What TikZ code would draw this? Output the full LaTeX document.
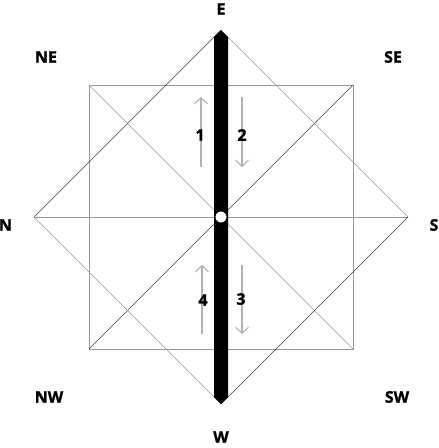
\documentclass[tikz,border=0pt]{standalone}
\usepackage{fontspec}
\setmainfont{Open Sans}[BoldFeatures={FakeBold=1.2}]
\usetikzlibrary{arrows.meta}
\begin{document}
\begin{tikzpicture}[x=1pt,y=-1pt,
  lbl/.style={font=\bfseries\fontsize{16}{16}\selectfont, inner sep=0pt},
  thinblack/.style={black!75, line width=0.4pt},
  thingray/.style={black!40, line width=0.7pt},
  flow/.style={black!30, line width=1.1pt, -{Straight Barb[length=6pt,width=13pt]}}]
\useasboundingbox (0,0) rectangle (439,448);
% diamond tips
\coordinate (Et) at (221,30);
\coordinate (Wt) at (221,404);
\coordinate (Nt) at (34,217);
\coordinate (St) at (408,217);
% square corners
\coordinate (q1) at (89,85);
\coordinate (q2) at (353,85);
\coordinate (q3) at (353,349);
\coordinate (q4) at (89,349);
% square
\draw[thingray] (q1) -- (q2) -- (q3) -- (q4) -- cycle;
\draw[thingray] (q1) -- (q3);
\draw[thinblack] (q2) -- (q4);
\draw[thingray] (Nt) -- (St);
% diamond
\draw[thinblack] (Nt) -- (Et);
\draw[thingray] (Et) -- (St);
\draw[thinblack] (St) -- (Wt);
\draw[thingray] (Wt) -- (Nt);
% thick bar
\fill[black] (214,37) -- (Et) -- (228,37) -- (228,397) -- (Wt) -- (214,397) -- cycle;
\node[circle, draw=black, fill=white, minimum size=12pt, inner sep=0pt, line width=0.8pt] (c) at (221,217) {};
% flow arrows
\coordinate (a1s) at (201,167); \coordinate (a1e) at (201,97);
\coordinate (a2s) at (242,97);  \coordinate (a2e) at (242,167);
\coordinate (a4s) at (202,334); \coordinate (a4e) at (202,265);
\coordinate (a3s) at (242,265); \coordinate (a3e) at (242,334);
\draw[flow] (a1s) -- (a1e);
\draw[flow] (a2s) -- (a2e);
\draw[flow] (a4s) -- (a4e);
\draw[flow] (a3s) -- (a3e);
\node[lbl] (n1) at (200,135) {1};
\node[lbl] (n2) at (242,135) {2};
\node[lbl] (n4) at (203,300) {4};
\node[lbl] (n3) at (241,299) {3};
% compass labels
\node[lbl] (E) at (221,9) {E};
\node[lbl] (W) at (221,437) {W};
\node[lbl] (N) at (5.5,225) {N};
\node[lbl] (S) at (434,225) {S};
\node[lbl] (NE) at (46,57) {NE};
\node[lbl] (SE) at (393,57) {SE};
\node[lbl] (NW) at (49,397) {NW};
\node[lbl] (SW) at (397,397) {SW};
\end{tikzpicture}
\end{document}
